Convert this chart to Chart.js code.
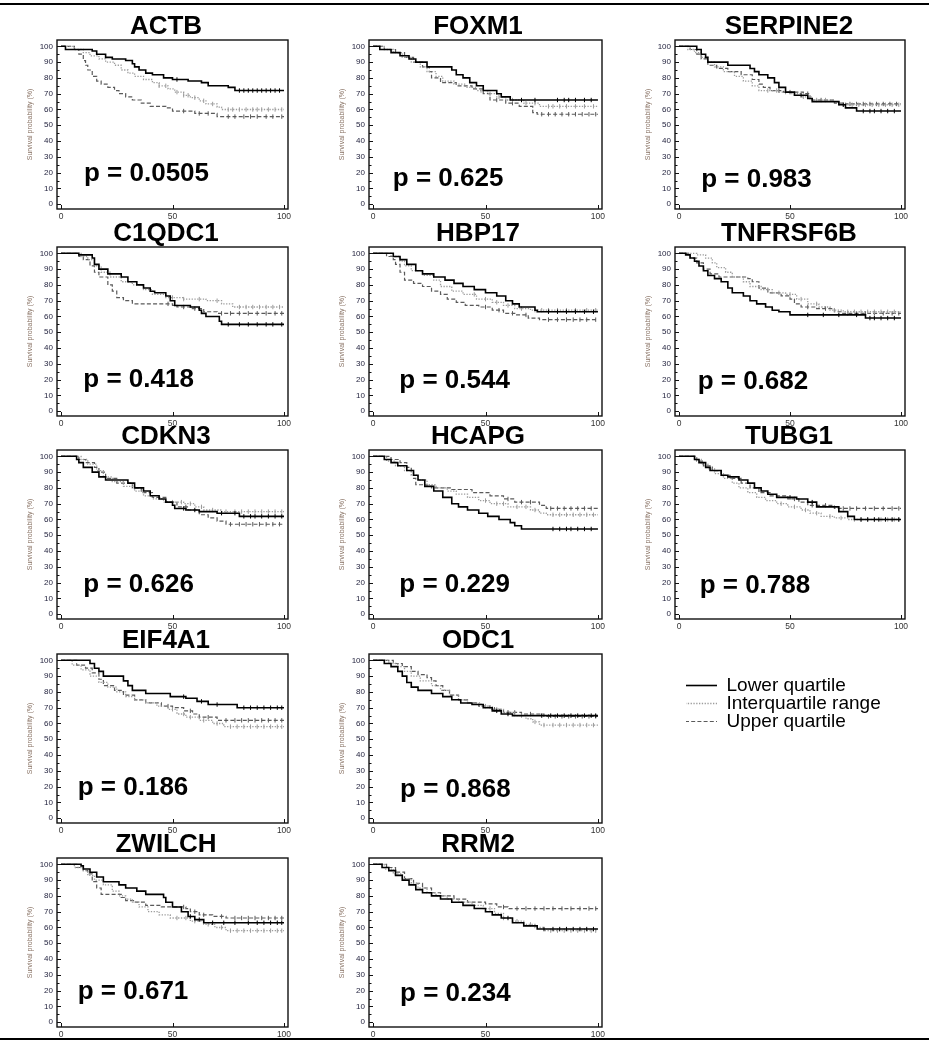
<!DOCTYPE html>
<html>
<head>
<meta charset="utf-8">
<script src="https://cdn.jsdelivr.net/npm/chart.js@4.4.1/dist/chart.umd.min.js"></script>
<style>
  html, body { margin: 0; padding: 0; background: #fff; overflow: hidden; width: 929px; height: 1048px; }
  #fig { position: relative; width: 929px; height: 1048px; overflow: hidden; }
  .rule { position: absolute; left: 0; width: 929px; height: 2px; background: #000; }
  #fig canvas { position: absolute; }
</style>
</head>
<body>
<div id="fig">
  <div class="rule" style="top:3px"></div>
  <div class="rule" style="top:1038px"></div>
</div>
<script>
// ---- Kaplan-Meier curves: [time, survival %] at each event, plus censoring times ----
const GENES = ['ACTB', 'FOXM1', 'SERPINE2', 'C1QDC1', 'HBP17', 'TNFRSF6B', 'CDKN3', 'HCAPG', 'TUBG1', 'EIF4A1', 'ODC1', 'ZWILCH', 'RRM2'];
const P_VALUES = ['0.0505', '0.625', '0.983', '0.418', '0.544', '0.682', '0.626', '0.229', '0.788', '0.186', '0.868', '0.671', '0.234'];
const SERIES_NAMES = ['Lower quartile', 'Interquartile range', 'Upper quartile'];
const X_TICKS = [0, 50, 100];
const Y_TICKS = [0, 10, 20, 30, 40, 50, 60, 70, 80, 90, 100];
const Y_MINOR_TICKS = [5, 15, 25, 35, 45, 55, 65, 75, 85, 95];

const ACTB_LOWER = [[0,100],[2,98],[14,97],[16,95],[20,93],[23,92],[29,91],[32,89],[33,87],[35,85],[38,83],[41,82],[46,80],[50,79],[57,78],[63,77],[66,75],[75,74],[78,72],[100,72]];
const ACTB_IQR = [[0,100],[6,98],[10,96],[13,94],[17,92],[20,90],[24,88],[27,85],[30,83],[33,81],[37,79],[41,77],[44,75],[48,73],[51,71],[55,69],[58,67.5],[62,65.5],[65,63.5],[70,61.5],[72,60],[100,60]];
const ACTB_UPPER = [[0,100],[6,98],[8,95],[10,91],[11,88],[12,85],[14,81],[16,78],[18,76],[21,74],[24,72],[26,70],[29,68],[32,66],[36,64],[40,62],[47,61],[50,59],[60,57.5],[70,55.5],[100,55.5]];
const ACTB_LOWER_CENS = [52,80,82,84,86,88,90,92,94,96,98];
const ACTB_IQR_CENS = [44,47,52,55,57,60,64,68,75,77,80,83,86,88,90,93,96,99];
const ACTB_UPPER_CENS = [55,62,66,75,78,82,85,88,92,95,99];

const FOXM1_LOWER = [[0,100],[3,98],[8,96],[12,94],[16,92],[19,90],[24,87],[35,85],[37,82],[40,80],[43,77],[46,75],[49,72],[55,70],[57,68],[61,66],[100,66]];
const FOXM1_IQR = [[0,100],[5,98],[9,96],[13,93],[17,90],[21,87],[24,84],[28,81],[31,78],[36,76],[41,74],[46,72],[51,70],[55,68],[59,66],[67,64],[74,62],[100,62]];
const FOXM1_UPPER = [[0,100],[5,98],[10,96],[14,93],[18,90],[22,87],[25,84],[26,80],[30,77],[37,75],[44,73],[49,70],[52,66],[59,64],[65,62],[71,58],[73,57],[100,57]];
const FOXM1_LOWER_CENS = [66,72,82,85,87,90,94,97];
const FOXM1_IQR_CENS = [48,52,56,62,68,72,78,80,83,86,90,94,98];
const FOXM1_UPPER_CENS = [55,62,75,78,81,84,87,90,93,96,99];

const SERPINE2_LOWER = [[0,100],[8,98],[10,95],[12,93],[13,90],[22,88],[32,86],[34,84],[36,82],[40,80],[43,77],[45,74],[48,71],[52,69],[58,67],[60,65],[72,63],[75,61],[80,59],[100,59]];
const SERPINE2_IQR = [[0,100],[4,98],[7,96],[10,93],[13,90],[16,87],[20,84],[25,81],[29,78],[33,75],[36,72],[45,71],[50,70],[55,68],[60,66],[70,65],[72,63],[100,63]];
const SERPINE2_UPPER = [[0,100],[5,98],[8,95],[10,92],[13,88],[17,86],[22,84],[28,82],[33,79],[36,76],[38,74],[41,72],[47,71],[56,70],[59,66],[70,64],[75,63.5],[100,63.5]];
const SERPINE2_LOWER_CENS = [55,74,83,86,88,91,94,97];
const SERPINE2_IQR_CENS = [40,44,48,52,56,62,66,74,78,81,84,87,90,93,96,99];
const SERPINE2_UPPER_CENS = [45,50,58,64,72,77,80,83,86,89,92,95,98];

const C1QDC1_LOWER = [[0,100],[8,99],[14,97],[15,93],[17,90],[21,87],[27,85],[30,82],[34,80],[37,78],[40,76],[42,75],[47,73],[49,70],[51,67],[58,66],[62,64],[63,62],[65,60],[71,57],[72,55],[100,55]];
const C1QDC1_IQR = [[0,100],[9,98],[12,96],[15,92],[18,88],[22,85],[27,82],[32,80],[37,77],[41,74],[47,72],[55,71],[65,70],[72,68],[77,66],[100,66]];
const C1QDC1_UPPER = [[0,100],[8,98],[10,96],[13,92],[15,88],[17,85],[21,80],[23,76],[25,72],[28,70],[32,68],[50,67],[52,66],[58,65],[64,63],[70,62],[100,62]];
const C1QDC1_LOWER_CENS = [75,80,84,88,92,95,99];
const C1QDC1_IQR_CENS = [50,55,62,70,80,83,86,89,92,95,98];
const C1QDC1_UPPER_CENS = [48,55,60,72,76,80,84,88,92,96,99];

const HBP17_LOWER = [[0,100],[9,98],[12,96],[15,93],[19,89],[22,87],[27,85],[32,83],[36,81],[40,79],[45,77],[50,75],[55,73],[59,70],[62,68],[65,66],[72,64],[73,63],[100,63]];
const HBP17_IQR = [[0,100],[8,98],[12,95],[14,92],[17,89],[22,86],[27,83],[30,79],[35,76],[40,74],[46,71],[53,69],[58,67],[63,65],[70,64],[100,64]];
const HBP17_UPPER = [[0,100],[6,98],[9,96],[10,93],[12,88],[14,83],[18,81],[22,79],[26,76],[30,74],[33,71],[37,69],[41,67],[47,66],[53,64],[58,62],[63,61],[69,59],[74,58],[100,58]];
const HBP17_LOWER_CENS = [78,82,86,90,94,98];
const HBP17_IQR_CENS = [45,50,55,60,66,72,75,78,82,86,90,95,99];
const HBP17_UPPER_CENS = [50,56,62,68,78,82,86,89,92,95,99];

const TNFRSF6B_LOWER = [[0,100],[3,99],[5,97],[7,95],[9,92],[11,89],[13,86],[16,84],[19,82],[22,78],[24,75],[29,73],[32,70],[35,68],[39,66],[42,64],[45,63],[50,61],[84,59],[100,59]];
const TNFRSF6B_IQR = [[0,100],[8,99],[12,97],[15,94],[17,91],[21,88],[24,85],[29,82],[32,79],[37,77],[42,75],[48,74],[53,71],[58,68],[63,66],[68,64],[74,63],[100,63]];
const TNFRSF6B_UPPER = [[0,100],[5,97],[8,94],[11,90],[14,87],[18,85],[31,84],[33,82],[36,78],[40,75],[46,73],[50,71],[52,68],[55,66],[62,65],[70,63],[73,62],[100,62]];
const TNFRSF6B_LOWER_CENS = [58,65,72,80,86,88,91,94,97];
const TNFRSF6B_IQR_CENS = [40,45,50,55,62,70,76,79,82,85,88,91,94,97];
const TNFRSF6B_UPPER_CENS = [58,66,76,80,84,88,92,96,99];

const CDKN3_LOWER = [[0,100],[7,98],[8,96],[10,93],[14,90],[17,87],[20,85],[30,83],[33,80],[37,78],[40,75],[44,73],[47,71],[50,69],[51,67],[56,66],[62,65],[70,64],[80,62],[100,62]];
const CDKN3_IQR = [[0,100],[9,98],[12,95],[16,91],[19,87],[23,84],[28,81],[33,78],[37,75],[41,73],[46,71],[55,70],[60,68],[64,66],[72,65],[100,65]];
const CDKN3_UPPER = [[0,100],[8,98],[11,96],[15,93],[17,90],[20,86],[25,83],[32,80],[36,77],[41,74],[47,71],[52,68],[57,66],[62,63],[66,61],[70,59],[74,57],[100,57]];
const CDKN3_LOWER_CENS = [55,60,72,78,82,85,87,90,93,96,99];
const CDKN3_IQR_CENS = [50,54,58,63,68,74,78,81,84,87,90,93,96,99];
const CDKN3_UPPER_CENS = [56,76,80,83,86,89,92,95,98];

const HCAPG_LOWER = [[0,100],[5,98],[8,96],[11,94],[15,91],[18,88],[20,85],[23,81],[27,78],[31,74],[35,70],[38,68],[42,66],[47,64],[51,62],[56,60],[61,58],[63,56],[66,54],[100,54]];
const HCAPG_IQR = [[0,100],[6,97],[10,94],[14,91],[17,88],[20,85],[24,82],[28,80],[33,78],[37,76],[42,74],[47,72],[52,70],[60,68],[70,66],[74,64],[77,63],[100,63]];
const HCAPG_UPPER = [[0,100],[8,98],[12,96],[15,93],[17,90],[18,86],[19,82],[24,81],[26,80],[35,79],[44,77],[52,75],[58,73],[63,71],[74,69],[77,67],[100,67]];
const HCAPG_LOWER_CENS = [80,83,86,88,91,94,97];
const HCAPG_IQR_CENS = [50,55,58,64,68,72,80,83,86,89,92,95,98];
const HCAPG_UPPER_CENS = [60,66,70,79,82,85,88,91,94,97];

const TUBG1_LOWER = [[0,100],[7,98],[9,96],[12,93],[14,91],[19,88],[22,87],[27,85],[31,83],[34,80],[37,78],[40,76],[44,74],[53,73],[58,71],[62,68],[72,65],[76,62],[79,60],[100,60]];
const TUBG1_IQR = [[0,100],[7,98],[10,95],[13,92],[16,89],[20,86],[24,83],[27,80],[31,77],[35,74],[39,72],[44,70],[49,68],[55,66],[59,64],[64,62],[70,61],[76,60],[100,60]];
const TUBG1_UPPER = [[0,100],[8,97],[11,94],[15,91],[19,88],[23,86],[28,83],[32,80],[36,77],[41,75],[49,73],[54,71],[58,69],[70,67],[100,67]];
const TUBG1_LOWER_CENS = [50,60,82,85,88,90,93,96,99];
const TUBG1_IQR_CENS = [46,52,57,62,68,73,79,82,85,88,91,94,97,99];
const TUBG1_UPPER_CENS = [52,60,66,74,77,80,84,88,92,96,99];

const EIF4A1_LOWER = [[0,100],[13,98],[15,95],[17,93],[19,90],[28,87],[30,84],[32,81],[38,79],[49,77],[56,76],[61,74],[66,72],[79,70],[100,70]];
const EIF4A1_IQR = [[0,100],[5,97],[9,94],[13,90],[17,86],[21,83],[25,80],[29,77],[33,75],[38,73],[43,71],[48,69],[52,66],[56,64],[62,62],[68,60],[73,58],[100,58]];
const EIF4A1_UPPER = [[0,100],[7,97],[11,95],[14,92],[17,88],[19,84],[24,81],[28,78],[33,75],[38,73],[45,71],[50,70],[55,68],[59,66],[62,64],[70,62],[100,62]];
const EIF4A1_LOWER_CENS = [55,63,70,82,85,88,91,94,97,99];
const EIF4A1_IQR_CENS = [50,55,58,64,70,76,79,82,85,88,91,94,97,99];
const EIF4A1_UPPER_CENS = [48,58,66,74,78,81,84,87,90,93,96,99];

const ODC1_LOWER = [[0,100],[5,98],[8,96],[11,93],[13,90],[15,86],[17,83],[20,81],[26,79],[31,77],[35,75],[39,73],[44,72],[49,70],[53,68],[57,66],[62,65],[100,65]];
const ODC1_IQR = [[0,100],[7,98],[11,96],[14,93],[17,90],[21,87],[26,84],[30,81],[34,78],[38,75],[42,73],[48,71],[53,69],[58,67],[63,65],[68,63],[71,61],[74,59],[100,59]];
const ODC1_UPPER = [[0,100],[9,98],[13,96],[17,93],[20,91],[24,89],[26,87],[28,84],[31,81],[34,78],[38,75],[42,73],[47,71],[52,69],[58,67],[66,66],[76,64.5],[100,64.5]];
const ODC1_LOWER_CENS = [55,60,75,79,82,85,88,91,94,97,99];
const ODC1_IQR_CENS = [50,55,60,66,72,76,80,83,86,89,92,95,98];
const ODC1_UPPER_CENS = [54,60,63,70,78,81,84,87,90,93,96,99];

const ZWILCH_LOWER = [[0,100],[9,99],[10,97],[13,95],[16,92],[19,89],[26,87],[29,85],[34,83],[38,81],[46,79],[47,76],[50,73],[54,70],[57,67],[60,65],[64,63],[100,63]];
const ZWILCH_IQR = [[0,100],[6,98],[10,96],[12,93],[15,90],[19,87],[23,83],[26,80],[29,78],[32,76],[35,73],[39,70],[44,68],[49,66],[58,64],[64,62],[69,60],[74,58],[100,58]];
const ZWILCH_UPPER = [[0,100],[7,98],[10,96],[12,94],[14,89],[16,85],[18,81],[27,79],[29,77],[33,76],[38,74],[45,73],[56,72],[58,70],[62,68],[68,67],[74,66],[100,66]];
const ZWILCH_LOWER_CENS = [58,62,68,73,78,84,88,91,94,97,99];
const ZWILCH_IQR_CENS = [52,56,60,66,72,76,79,82,85,88,91,94,97,99];
const ZWILCH_UPPER_CENS = [55,60,64,72,78,81,84,87,90,93,96,99];

const RRM2_LOWER = [[0,100],[4,98],[7,96],[10,93],[13,90],[16,87],[19,84],[22,82],[26,80],[30,78],[35,76],[40,74],[45,72],[50,70],[53,68],[57,66],[62,63],[67,61],[73,59],[100,59]];
const RRM2_IQR = [[0,100],[5,97],[9,94],[13,91],[17,88],[20,85],[24,82],[28,80],[33,78],[38,76],[44,74],[49,72],[54,69],[58,66],[62,64],[67,62],[72,60],[76,58],[100,58]];
const RRM2_UPPER = [[0,100],[6,98],[10,95],[14,91],[18,88],[22,85],[26,82],[30,80],[36,78],[42,76],[50,75],[55,73],[60,72],[100,72]];
const RRM2_LOWER_CENS = [60,76,80,83,86,89,92,95,98];
const RRM2_IQR_CENS = [52,58,64,70,79,82,85,88,91,94,97,99];
const RRM2_UPPER_CENS = [58,64,68,72,76,80,84,88,92,96,99];

// Lookup tables assembled from the arrays above
const CURVES = {
  ACTB: [ACTB_LOWER, ACTB_IQR, ACTB_UPPER],
  FOXM1: [FOXM1_LOWER, FOXM1_IQR, FOXM1_UPPER],
  SERPINE2: [SERPINE2_LOWER, SERPINE2_IQR, SERPINE2_UPPER],
  C1QDC1: [C1QDC1_LOWER, C1QDC1_IQR, C1QDC1_UPPER],
  HBP17: [HBP17_LOWER, HBP17_IQR, HBP17_UPPER],
  TNFRSF6B: [TNFRSF6B_LOWER, TNFRSF6B_IQR, TNFRSF6B_UPPER],
  CDKN3: [CDKN3_LOWER, CDKN3_IQR, CDKN3_UPPER],
  HCAPG: [HCAPG_LOWER, HCAPG_IQR, HCAPG_UPPER],
  TUBG1: [TUBG1_LOWER, TUBG1_IQR, TUBG1_UPPER],
  EIF4A1: [EIF4A1_LOWER, EIF4A1_IQR, EIF4A1_UPPER],
  ODC1: [ODC1_LOWER, ODC1_IQR, ODC1_UPPER],
  ZWILCH: [ZWILCH_LOWER, ZWILCH_IQR, ZWILCH_UPPER],
  RRM2: [RRM2_LOWER, RRM2_IQR, RRM2_UPPER]
};
const CENSORED = {
  ACTB: [ACTB_LOWER_CENS, ACTB_IQR_CENS, ACTB_UPPER_CENS],
  FOXM1: [FOXM1_LOWER_CENS, FOXM1_IQR_CENS, FOXM1_UPPER_CENS],
  SERPINE2: [SERPINE2_LOWER_CENS, SERPINE2_IQR_CENS, SERPINE2_UPPER_CENS],
  C1QDC1: [C1QDC1_LOWER_CENS, C1QDC1_IQR_CENS, C1QDC1_UPPER_CENS],
  HBP17: [HBP17_LOWER_CENS, HBP17_IQR_CENS, HBP17_UPPER_CENS],
  TNFRSF6B: [TNFRSF6B_LOWER_CENS, TNFRSF6B_IQR_CENS, TNFRSF6B_UPPER_CENS],
  CDKN3: [CDKN3_LOWER_CENS, CDKN3_IQR_CENS, CDKN3_UPPER_CENS],
  HCAPG: [HCAPG_LOWER_CENS, HCAPG_IQR_CENS, HCAPG_UPPER_CENS],
  TUBG1: [TUBG1_LOWER_CENS, TUBG1_IQR_CENS, TUBG1_UPPER_CENS],
  EIF4A1: [EIF4A1_LOWER_CENS, EIF4A1_IQR_CENS, EIF4A1_UPPER_CENS],
  ODC1: [ODC1_LOWER_CENS, ODC1_IQR_CENS, ODC1_UPPER_CENS],
  ZWILCH: [ZWILCH_LOWER_CENS, ZWILCH_IQR_CENS, ZWILCH_UPPER_CENS],
  RRM2: [RRM2_LOWER_CENS, RRM2_IQR_CENS, RRM2_UPPER_CENS]
};

// ---- layout ----
const FONT = '"Liberation Sans", Arial, Helvetica, sans-serif';
const PANEL_CELL = [[0,0],[0,1],[0,2],[1,0],[1,1],[1,2],[2,0],[2,1],[2,2],[3,0],[3,1],[4,0],[4,1]];
const P_LABEL_AT = [[10.3,14.5],[8.8,11.6],[10,11],[10,15.5],[11.7,14.6],[8.4,14.4],[10,14],[11.7,14],[9.3,13.5],[7.5,14.6],[12,13.5],[7.5,14.5],[12,13.5]];
const COL_BOX_LEFT = [57, 369, 675];
const COL_BOX_WIDTH = [231, 233, 230];
const COL_TITLE_CENTER = [166, 478, 789];
const ROW_BOX_TOP = [40, 247, 450, 654, 858];
const BOX_HEIGHT = 169;
const Y_AXIS_W = 52, X_AXIS_H = 18, TITLE_BLOCK = 31, BOTTOM_PAD = 2;

const LINE_STYLES = [
  { color: '#000000', width: 1.6, dash: [] },
  { color: '#9c9c9c', width: 1.3, dash: [1.3, 1.5] },
  { color: '#5a5a5a', width: 1.2, dash: [4, 2.2] }
];

function survivalAt(curve, t) {
  let s = curve[0][1];
  for (const [x, y] of curve) { if (x <= t) s = y; else break; }
  return s;
}

// Frame, inward tick marks and the p-value label
const kmFrame = {
  id: 'kmFrame',
  afterDatasetsDraw(chart, args, opts) {
    const { ctx, chartArea: a, scales: { x, y } } = chart;
    ctx.save();
    ctx.strokeStyle = '#111';
    ctx.lineWidth = 1.4;
    ctx.strokeRect(a.left, a.top, a.right - a.left, a.bottom - a.top);
    ctx.lineWidth = 1;
    ctx.beginPath();
    Y_TICKS.forEach(v => {
      const py = Math.round(y.getPixelForValue(v)) + 0.5;
      ctx.moveTo(a.left, py); ctx.lineTo(a.left + 4, py);
    });
    Y_MINOR_TICKS.forEach(v => {
      const py = Math.round(y.getPixelForValue(v)) + 0.5;
      ctx.moveTo(a.left, py); ctx.lineTo(a.left + 2.5, py);
    });
    X_TICKS.forEach(v => {
      const px = Math.round(x.getPixelForValue(v)) + 0.5;
      ctx.moveTo(px, a.bottom); ctx.lineTo(px, a.bottom - 4);
    });
    ctx.stroke();
    ctx.font = 'bold 26px ' + FONT;
    ctx.fillStyle = '#000';
    ctx.textAlign = 'left';
    ctx.textBaseline = 'alphabetic';
    ctx.fillText('p = ' + opts.p, x.getPixelForValue(opts.at[0]), y.getPixelForValue(opts.at[1]));
    ctx.restore();
  }
};

const fig = document.getElementById('fig');

GENES.forEach((gene, i) => {
  const [row, col] = PANEL_CELL[i];
  const boxLeft = COL_BOX_LEFT[col];
  const boxRight = boxLeft + COL_BOX_WIDTH[col];
  const canvasLeft = boxLeft - Y_AXIS_W;
  // canvas centred on the title; an empty right-hand axis fills the space right of the plot
  const canvasWidth = 2 * (COL_TITLE_CENTER[col] - canvasLeft);
  const rightGap = canvasLeft + canvasWidth - boxRight;
  const canvasTop = ROW_BOX_TOP[row] - TITLE_BLOCK;
  const canvasHeight = TITLE_BLOCK + BOX_HEIGHT + X_AXIS_H + BOTTOM_PAD;

  const cv = document.createElement('canvas');
  cv.width = canvasWidth; cv.height = canvasHeight;
  cv.style.left = canvasLeft + 'px'; cv.style.top = canvasTop + 'px';
  cv.style.width = canvasWidth + 'px'; cv.style.height = canvasHeight + 'px';
  fig.appendChild(cv);

  const datasets = [];
  CURVES[gene].forEach((curve, k) => {
    const st = LINE_STYLES[k];
    datasets.push({
      label: SERIES_NAMES[k],
      data: curve.map(([t, s]) => ({ x: t, y: s })),
      showLine: true, stepped: 'before',
      borderColor: st.color, borderWidth: st.width, borderDash: st.dash,
      borderCapStyle: 'butt', borderJoinStyle: 'miter',
      pointRadius: 0, pointHoverRadius: 0, fill: false
    });
    datasets.push({
      label: SERIES_NAMES[k] + ' (censored)',
      data: CENSORED[gene][k].map(t => ({ x: t, y: survivalAt(curve, t) })),
      showLine: false,
      pointStyle: 'line', pointRotation: 90, pointRadius: 2.2, pointHoverRadius: 0,
      pointBorderColor: st.color, pointBorderWidth: 1, pointBackgroundColor: st.color
    });
  });

  new Chart(cv, {
    type: 'scatter',
    data: { datasets },
    options: {
      responsive: false, animation: false, devicePixelRatio: 1,
      layout: { padding: { left: 0, right: 0, top: 0, bottom: BOTTOM_PAD } },
      plugins: {
        legend: { display: false },
        tooltip: { enabled: false },
        title: {
          display: true, text: gene, color: '#000',
          font: { family: FONT, size: 26, weight: 'bold', lineHeight: 1 },
          padding: { top: 5, bottom: 0 }
        },
        kmFrame: { p: P_VALUES[i], at: P_LABEL_AT[i] }
      },
      scales: {
        x: {
          type: 'linear', min: -1.8, max: 101.8,
          afterBuildTicks: s => { s.ticks = X_TICKS.map(v => ({ value: v })); },
          afterFit: s => { s.height = X_AXIS_H; },
          grid: { display: false, drawTicks: false },
          border: { display: false },
          ticks: { font: { family: FONT, size: 8.5 }, color: '#333', padding: 3, maxRotation: 0, autoSkip: false }
        },
        y: {
          type: 'linear', min: -3, max: 104,
          afterBuildTicks: s => { s.ticks = Y_TICKS.map(v => ({ value: v })); },
          afterFit: s => { s.width = Y_AXIS_W; },
          grid: { display: false, drawTicks: false },
          border: { display: false },
          ticks: { font: { family: FONT, size: 8 }, color: '#1e1e3a', padding: 4, autoSkip: false },
          title: {
            display: true, text: 'Survival probability (%)',
            font: { family: FONT, size: 7 }, color: '#8a7466',
            padding: { top: 21, bottom: 0 }
          }
        },
        yRight: {
          type: 'linear', position: 'right', display: true,
          afterFit: s => { s.width = rightGap; },
          grid: { display: false, drawTicks: false },
          border: { display: false },
          ticks: { display: false }
        }
      }
    },
    plugins: [kmFrame]
  });
});

// ---- shared legend ----
const lg = document.createElement('canvas');
lg.width = 240; lg.height = 150;
lg.style.left = '686px'; lg.style.top = '667px';
lg.style.width = '240px'; lg.style.height = '150px';
fig.appendChild(lg);

new Chart(lg, {
  type: 'scatter',
  data: {
    datasets: SERIES_NAMES.map((name, k) => ({
      label: name, data: [],
      borderColor: LINE_STYLES[k].color, borderWidth: LINE_STYLES[k].width, borderDash: LINE_STYLES[k].dash
    }))
  },
  options: {
    responsive: false, animation: false, devicePixelRatio: 1,
    layout: { padding: { top: 10, left: 0, right: 0, bottom: 0 } },
    scales: { x: { display: false }, y: { display: false } },
    plugins: {
      tooltip: { enabled: false },
      legend: {
        display: true, position: 'top', align: 'start',
        labels: {
          usePointStyle: true, pointStyleWidth: 32, padding: -1,
          font: { family: FONT, size: 19 }, color: '#000',
          generateLabels: chart => chart.data.datasets.map((ds, k) => ({
            text: ds.label, datasetIndex: k, hidden: false,
            strokeStyle: ds.borderColor, fillStyle: 'rgba(0,0,0,0)',
            lineWidth: ds.borderWidth, lineDash: ds.borderDash,
            pointStyle: 'line', rotation: 0, fontColor: '#000'
          }))
        }
      }
    }
  }
});
</script>
</body>
</html>
